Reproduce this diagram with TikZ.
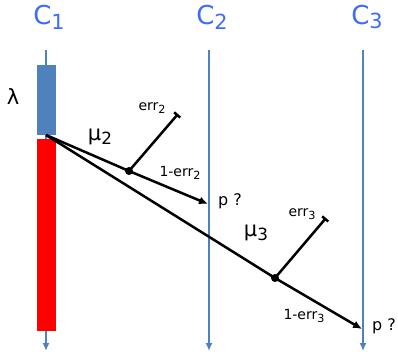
\documentclass[tikz,border=0pt]{standalone}
\usepackage{fontspec}
\setmainfont{DejaVu Sans}
\usetikzlibrary{arrows.meta}
\definecolor{lineblue}{HTML}{4F81BD}
\definecolor{labblue}{HTML}{3E6BF8}
\newcommand{\mysub}[1]{\raisebox{-0.35ex}{\scalebox{0.8}{#1}}}
\begin{document}
\begin{tikzpicture}[x=1pt,y=-1pt,
  timeline/.style={draw=lineblue,line width=2.4pt,-{Latex[length=8pt,width=7pt]}},
  clab/.style={text=labblue,font=\fontsize{26}{28}\selectfont,inner sep=0pt},
  msg/.style={draw=black,line width=2.5pt},
  msgarr/.style={msg,-{Latex[length=9pt,width=8pt]}},
  errarr/.style={msg,-{Bar[width=8pt]}},
  small/.style={font=\fontsize{14}{16}\selectfont,inner sep=0pt},
  mid/.style={font=\fontsize{16}{18}\selectfont,inner sep=0pt},
  greek/.style={font=\fontsize{21}{24}\selectfont,inner sep=0pt},
  dot/.style={circle,fill=black,inner sep=0pt,minimum size=8pt}]
\useasboundingbox (0,0) rectangle (398,353);
% timelines
\coordinate (t1top) at (46,50); \coordinate (t1bot) at (46,351);
\coordinate (t2top) at (209,50); \coordinate (t2bot) at (209,351);
\coordinate (t3top) at (363,50); \coordinate (t3bot) at (363,351);
\draw[timeline] (t1top) -- (t1bot);
\draw[timeline] (t2top) -- (t2bot);
\draw[timeline] (t3top) -- (t3bot);
\node[clab] (c1) at (49,17) {C\mysub{1}};
\node[clab] (c2) at (212,17) {C\mysub{2}};
\node[clab] (c3) at (367,17) {C\mysub{3}};
% bars
\fill[lineblue] (37,65) rectangle (56,135);
\fill[red] (37,139) rectangle (56,331);
\node[greek] (lam) at (13,97) {λ};
% messages
\coordinate (s) at (46,135);
\node[dot] (d2) at (129,171) {};
\node[dot] (d3) at (275,278) {};
\coordinate (e2) at (178,114);
\coordinate (e3) at (326,218);
\coordinate (p2) at (208,204);
\coordinate (p3) at (362,329);
\draw[msg] (s) -- (d2.center);
\draw[msgarr] (d2.center) -- (p2);
\draw[errarr] (d2.center) -- (e2);
\draw[msg] (s) -- (d3.center);
\draw[msgarr] (d3.center) -- (p3);
\draw[errarr] (d3.center) -- (e3);
% labels
\node[greek] (mu2) at (100,137) {μ\mysub{2}};
\node[greek] (mu3) at (256,233) {μ\mysub{3}};
\node[small] (err2) at (152,108) {err\mysub{2}};
\node[small] (err3) at (302,214) {err\mysub{3}};
\node[small] (nerr2) at (180,173) {1-err\mysub{2}};
\node[small] (nerr3) at (304,316) {1-err\mysub{3}};
\node[mid] (q2) at (230,201) {p ?};
\node[mid] (q3) at (384,326) {p ?};
\end{tikzpicture}
\end{document}
